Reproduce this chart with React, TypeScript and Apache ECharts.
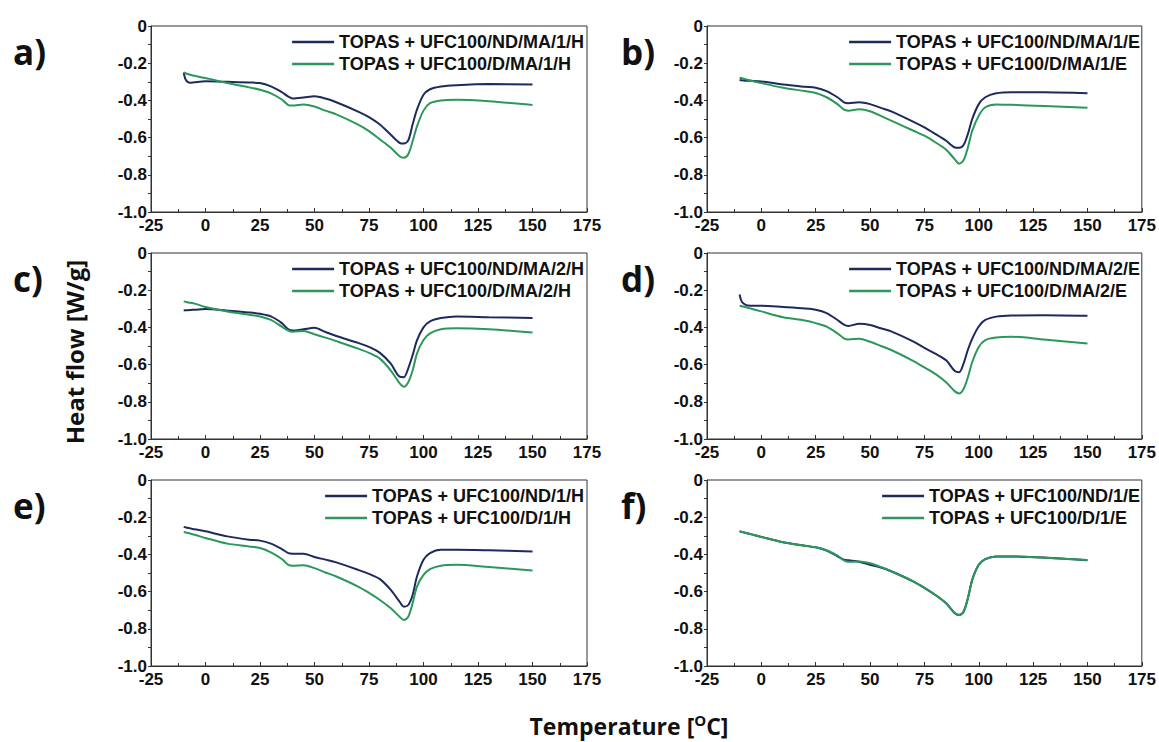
import React, { useEffect, useRef } from "react";
import * as echarts from "echarts";

// Temperatures (°C) at which the curves were read
const T = [-10, -9, -7, -5, 0, 10, 20, 25, 30, 35, 38, 40, 45, 50, 55, 60, 70, 75, 80, 85, 89, 91, 93, 95, 97, 100, 103, 108, 115, 130, 150];

// Heat flow (W/g)
const A_ND = [-0.25, -0.29, -0.305, -0.302, -0.297, -0.3, -0.304, -0.307, -0.325, -0.356, -0.38, -0.39, -0.385, -0.378, -0.39, -0.41, -0.46, -0.49, -0.53, -0.585, -0.628, -0.632, -0.615, -0.53, -0.45, -0.37, -0.34, -0.325, -0.318, -0.312, -0.314];
const A_D = [-0.25, -0.255, -0.262, -0.268, -0.28, -0.307, -0.33, -0.343, -0.362, -0.395, -0.425, -0.428, -0.422, -0.433, -0.455, -0.475, -0.53, -0.565, -0.61, -0.655, -0.7, -0.708, -0.69, -0.62, -0.54, -0.455, -0.415, -0.4, -0.397, -0.405, -0.425];
const B_ND = [-0.29, -0.292, -0.294, -0.295, -0.298, -0.315, -0.327, -0.332, -0.35, -0.383, -0.41, -0.415, -0.41, -0.42, -0.44, -0.46, -0.515, -0.545, -0.58, -0.617, -0.653, -0.655, -0.64, -0.58, -0.5, -0.42, -0.383, -0.362, -0.356, -0.356, -0.361];
const B_D = [-0.278, -0.281, -0.287, -0.293, -0.307, -0.332, -0.35, -0.36, -0.383, -0.42, -0.45, -0.455, -0.448, -0.458, -0.483, -0.51, -0.563, -0.59, -0.625, -0.665, -0.717, -0.74, -0.722, -0.653, -0.563, -0.482, -0.437, -0.422, -0.424, -0.43, -0.44];
const C_ND = [-0.309, -0.308, -0.306, -0.305, -0.301, -0.31, -0.32, -0.327, -0.341, -0.377, -0.41, -0.417, -0.41, -0.402, -0.425, -0.446, -0.483, -0.505, -0.537, -0.595, -0.665, -0.668, -0.62, -0.55, -0.47, -0.4, -0.368, -0.35, -0.341, -0.345, -0.35];
const C_D = [-0.26, -0.263, -0.268, -0.272, -0.29, -0.314, -0.332, -0.341, -0.36, -0.396, -0.417, -0.423, -0.419, -0.437, -0.455, -0.474, -0.514, -0.537, -0.568, -0.632, -0.7, -0.719, -0.695, -0.632, -0.541, -0.468, -0.432, -0.41, -0.405, -0.41, -0.428];
const D_ND = [-0.223, -0.262, -0.28, -0.283, -0.283, -0.29, -0.298, -0.305, -0.323, -0.36, -0.385, -0.392, -0.381, -0.387, -0.405, -0.423, -0.477, -0.51, -0.541, -0.577, -0.635, -0.641, -0.595, -0.52, -0.46, -0.395, -0.36, -0.342, -0.336, -0.335, -0.338];
const D_D = [-0.283, -0.286, -0.292, -0.298, -0.314, -0.345, -0.363, -0.377, -0.396, -0.432, -0.459, -0.465, -0.461, -0.477, -0.5, -0.523, -0.581, -0.615, -0.65, -0.695, -0.744, -0.755, -0.731, -0.668, -0.586, -0.505, -0.468, -0.454, -0.45, -0.465, -0.486];
const E_ND = [-0.252, -0.255, -0.26, -0.265, -0.276, -0.303, -0.321, -0.326, -0.342, -0.371, -0.393, -0.396, -0.396, -0.414, -0.428, -0.443, -0.483, -0.505, -0.533, -0.591, -0.654, -0.681, -0.672, -0.618, -0.519, -0.429, -0.393, -0.375, -0.375, -0.378, -0.384];
const E_D = [-0.279, -0.282, -0.288, -0.294, -0.312, -0.342, -0.357, -0.366, -0.389, -0.425, -0.456, -0.461, -0.458, -0.474, -0.497, -0.519, -0.573, -0.607, -0.645, -0.69, -0.735, -0.753, -0.735, -0.663, -0.573, -0.51, -0.479, -0.461, -0.456, -0.468, -0.486];
const F_ND = [-0.276, -0.279, -0.285, -0.291, -0.306, -0.335, -0.353, -0.362, -0.38, -0.41, -0.428, -0.432, -0.44, -0.456, -0.47, -0.492, -0.546, -0.58, -0.618, -0.663, -0.717, -0.726, -0.708, -0.636, -0.537, -0.456, -0.425, -0.411, -0.411, -0.417, -0.432];
const F_D = [-0.276, -0.279, -0.285, -0.291, -0.306, -0.335, -0.353, -0.362, -0.378, -0.407, -0.432, -0.44, -0.438, -0.448, -0.468, -0.492, -0.546, -0.58, -0.618, -0.663, -0.717, -0.726, -0.708, -0.636, -0.537, -0.456, -0.425, -0.411, -0.411, -0.418, -0.43];

const PANEL_LABELS = ["a)", "b)", "c)", "d)", "e)", "f)"];
const ND_NAMES = [
  "TOPAS + UFC100/ND/MA/1/H",
  "TOPAS + UFC100/ND/MA/1/E",
  "TOPAS + UFC100/ND/MA/2/H",
  "TOPAS + UFC100/ND/MA/2/E",
  "TOPAS + UFC100/ND/1/H",
  "TOPAS + UFC100/ND/1/E",
];
const D_NAMES = [
  "TOPAS + UFC100/D/MA/1/H",
  "TOPAS + UFC100/D/MA/1/E",
  "TOPAS + UFC100/D/MA/2/H",
  "TOPAS + UFC100/D/MA/2/E",
  "TOPAS + UFC100/D/1/H",
  "TOPAS + UFC100/D/1/E",
];
const ND_SERIES = [A_ND, B_ND, C_ND, D_ND, E_ND, F_ND];
const D_SERIES = [A_D, B_D, C_D, D_D, E_D, F_D];

const BLUE = "#1c2a5c";
const GREEN = "#2c975a";

const W = 1159;
const H = 742;
const LEFTS = [151, 707];
const TOPS = [26, 253, 480];
const GW = 436;
const GH = 186;

export default function App() {
  const ref = useRef<HTMLDivElement>(null);

  useEffect(() => {
    if (!ref.current) return;
    const chart = echarts.init(ref.current, null, { renderer: "svg" });

    const grids: any[] = [];
    const xAxes: any[] = [];
    const yAxes: any[] = [];
    const series: any[] = [];
    const legends: any[] = [];
    const graphics: any[] = [];
    const labelFont = { fontSize: 17, fontWeight: "bold", color: "#111", fontFamily: "Liberation Sans, Arial, sans-serif" };

    for (let i = 0; i < 6; i++) {
      const col = i % 2;
      const row = Math.floor(i / 2);
      const left = LEFTS[col];
      const top = TOPS[row];
      grids.push({ left, top, width: GW, height: GH, show: true, borderColor: "#333", borderWidth: 1, backgroundColor: "transparent" });
      xAxes.push({
        type: "value", gridIndex: i, min: -25, max: 175, interval: 25,
        axisLine: { show: true, onZero: false, lineStyle: { color: "#333", width: 1 } },
        axisTick: { show: true, inside: true, length: 4, lineStyle: { color: "#333" } },
        minorTick: { show: true, splitNumber: 2, length: 3, lineStyle: { color: "#333" } },
        splitLine: { show: false },
        axisLabel: { ...labelFont, margin: 5 },
      });
      yAxes.push({
        type: "value", gridIndex: i, min: -1, max: 0, interval: 0.2,
        axisLine: { show: true, onZero: false, lineStyle: { color: "#333", width: 1 } },
        axisTick: { show: true, inside: false, length: 3, lineStyle: { color: "#333" } },
        minorTick: { show: true, splitNumber: 2, length: 3, lineStyle: { color: "#333" } },
        splitLine: { show: false },
        axisLabel: { ...labelFont, margin: 4, formatter: (v: number) => (Math.abs(v) < 1e-9 ? "0" : v.toFixed(1)) },
      });
      series.push({
        type: "line", name: ND_NAMES[i], xAxisIndex: i, yAxisIndex: i,
        data: T.map((t, k) => [t, ND_SERIES[i][k]]),
        showSymbol: false, symbol: "none", smooth: 0.3,
        lineStyle: { width: 2, color: BLUE }, itemStyle: { color: BLUE },
      });
      series.push({
        type: "line", name: D_NAMES[i], xAxisIndex: i, yAxisIndex: i,
        data: T.map((t, k) => [t, D_SERIES[i][k]]),
        showSymbol: false, symbol: "none", smooth: 0.3,
        lineStyle: { width: 2, color: GREEN }, itemStyle: { color: GREEN },
      });
      legends.push({
        orient: "vertical", right: W - (left + GW) + 3, top: top + 6,
        icon: "rect", itemWidth: 42, itemHeight: 2.5, itemGap: 2, padding: 0,
        textStyle: { fontSize: 18, fontWeight: "bold", color: "#111", fontFamily: "Liberation Sans, Arial, sans-serif", lineHeight: 20 },
        data: [ND_NAMES[i], D_NAMES[i]],
        selectedMode: false,
      });
      graphics.push({
        type: "text",
        x: col === 0 ? 13 : 621,
        y: top + 25,
        style: { text: PANEL_LABELS[i], font: 'bold 35px "Open Sans"', fill: "#111", verticalAlign: "middle" },
      });
    }

    graphics.push({
      type: "text", x: 74, y: 352, rotation: Math.PI / 2,
      style: { text: "Heat flow [W/g]", font: 'bold 24px "Open Sans"', fill: "#111", align: "center", verticalAlign: "middle" },
    });
    graphics.push({
      type: "text", x: 629, y: 726,
      style: {
        text: "{a|Temperature [}{s|O}{a|C]}",
        align: "center", verticalAlign: "middle",
        rich: {
          a: { font: 'bold 23px "Open Sans"', fill: "#111", color: "#111" },
          s: { font: 'bold 15px "Open Sans"', fill: "#111", color: "#111", verticalAlign: "top", padding: [0, 0, 12, 0] },
        },
      },
    });

    chart.setOption({
      animation: false,
      backgroundColor: "#fff",
      grid: grids,
      xAxis: xAxes,
      yAxis: yAxes,
      legend: legends,
      series,
      graphic: graphics,
    });
    return () => chart.dispose();
  }, []);

  return <div ref={ref} style={{ position: "absolute", left: 0, top: 0, width: W, height: H }} />;
}
